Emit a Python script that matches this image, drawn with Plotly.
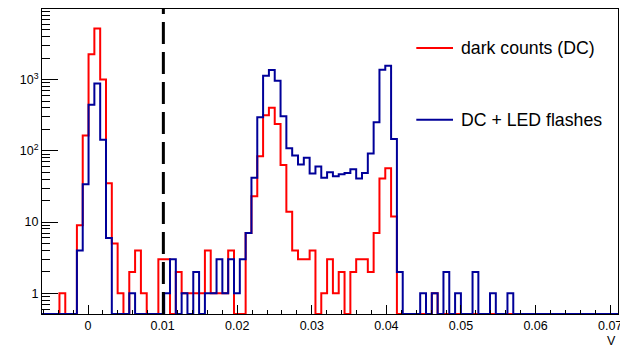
import math
import plotly.graph_objects as go

# ---- data ----
bin_start = -0.00617   # V, left edge of first bin
bin_width = 0.00078    # V
dark_counts = [0, 0, 0, 1, 0, 0, 9, 164, 2270, 5190,
               1000, 35, 5, 1, 0, 2, 4, 1, 0, 0,
               3, 3, 0, 2, 1, 1, 1, 1, 4, 1,
               1, 1, 4, 0, 0, 7, 23, 84, 315, 403,
               237, 63, 14, 4, 3, 3, 4, 0, 1, 3,
               1, 2, 0, 2, 3, 3, 2, 7, 41, 57,
               12, 0, 0, 0, 0, 0, 0, 1, 0, 0,
               0, 0, 0, 0, 0, 0, 0, 0, 0, 0,
               0, 0, 0, 0, 0, 0, 0, 0, 0, 0,
               0, 0, 0, 0, 0, 0, 0, 0, 0]
dc_led = [0, 0, 0, 0, 0, 0, 4, 34, 444, 883,
          143, 6, 0, 0, 0, 1, 0, 0, 0, 0,
          0, 1, 3, 0, 1, 0, 2, 0, 1, 1,
          3, 1, 3, 1, 3, 7, 42, 295, 1130, 1360,
          962, 305, 109, 86, 64, 80, 48, 60, 42, 50,
          44, 47, 49, 55, 41, 49, 92, 251, 1372, 1560,
          147, 2, 0, 0, 0, 1, 0, 1, 0, 2,
          0, 1, 0, 0, 2, 0, 0, 1, 0, 0,
          1, 0, 0, 0, 0, 0, 0, 0, 0, 0,
          0, 0, 0, 0, 0, 0, 0, 0, 0]
threshold = 0.0101
x_ticks = [0, 0.01, 0.02, 0.03, 0.04, 0.05, 0.06, 0.07]
y_ticks = [1, 10, 100, 1000]
y_tick_labels = ["1", "10", "10<sup>2</sup>", "10<sup>3</sup>"]
legend_labels = ["dark counts (DC)", "DC + LED flashes"]

RED = "#ff0000"
BLUE = "#000099"

n = len(dark_counts)
edges = [bin_start + k * bin_width for k in range(n + 1)]
ymin_log, ymax_log = -0.29, 3.99
floor = 10 ** ymin_log


def step(vals):
    ys = [v if v > 0 else floor for v in vals]
    return edges, ys + [ys[-1]]


fig = go.Figure()
for vals, col, name in [(dark_counts, RED, legend_labels[0]), (dc_led, BLUE, legend_labels[1])]:
    xs, ys = step(vals)
    fig.add_trace(go.Scatter(x=xs, y=ys, mode="lines", line=dict(color=col, width=2, shape="hv"),
                             name=name, showlegend=False, hoverinfo="skip"))

# threshold dashed line
fig.add_shape(type="line", xref="x", yref="paper", x0=threshold, x1=threshold, y0=0, y1=1,
              line=dict(color="black", width=3, dash="22px,8px"))

# page body has an 8px margin: the figure sits at (8, 8) in the window
OFF = 8
# plot frame in window pixels
L, R, T, B = 41.7, 617.7, 8.5, 314.0
W, H = R - L, B - T
def px(x):
    return (x - L) / W
def py(y):
    return (B - y) / H

for (yy, col, lab) in [(47.6, RED, legend_labels[0]), (119.5, BLUE, legend_labels[1])]:
    fig.add_shape(type="line", xref="paper", yref="paper", x0=px(416), x1=px(452.7), y0=py(yy), y1=py(yy),
                  line=dict(color=col, width=2))
    fig.add_annotation(xref="paper", yref="paper", x=px(459), y=py(yy), text=lab, showarrow=False,
                       xanchor="left", yanchor="middle", font=dict(size=17.7, color="black"))

fig.add_annotation(xref="paper", yref="paper", x=1.0, y=py(341), text="V", showarrow=False,
                   xanchor="right", yanchor="middle", font=dict(size=12.5, color="black"))

minor_y = []
for d in range(-1, 4):
    for m in range(2, 10):
        v = m * 10 ** d
        if floor < v < 10 ** ymax_log:
            minor_y.append(v)

fig.update_layout(
    width=628 - OFF, height=347 - OFF,
    margin=dict(l=L - OFF, r=628 - R, t=T - OFF, b=347 - B, autoexpand=False),
    paper_bgcolor="white", plot_bgcolor="white",
    font=dict(family="Liberation Sans, Arial, sans-serif", size=12.5, color="black"),
    showlegend=False,
)
fig.update_xaxes(range=[edges[0], edges[-1]], tickvals=x_ticks, ticktext=[("%g" % v) for v in x_ticks],
                 ticks="inside", ticklen=9, tickwidth=1, tickcolor="black",
                 minor=dict(dtick=0.002, tick0=0, ticks="inside", ticklen=4.5, tickcolor="black"),
                 showline=True, linecolor="black", linewidth=1, mirror=True, showgrid=False, zeroline=False,
                 tickfont=dict(size=12.5), automargin=False)
fig.update_yaxes(type="log", range=[ymin_log, ymax_log], tickvals=y_ticks, ticktext=y_tick_labels,
                 ticks="inside", ticklen=16, tickwidth=1, tickcolor="black",
                 minor=dict(tickvals=minor_y, ticks="inside", ticklen=8, tickcolor="black"),
                 showline=True, linecolor="black", linewidth=1, mirror=True, showgrid=False, zeroline=False,
                 tickfont=dict(size=12.5), automargin=False)

fig.write_html("out.html")
